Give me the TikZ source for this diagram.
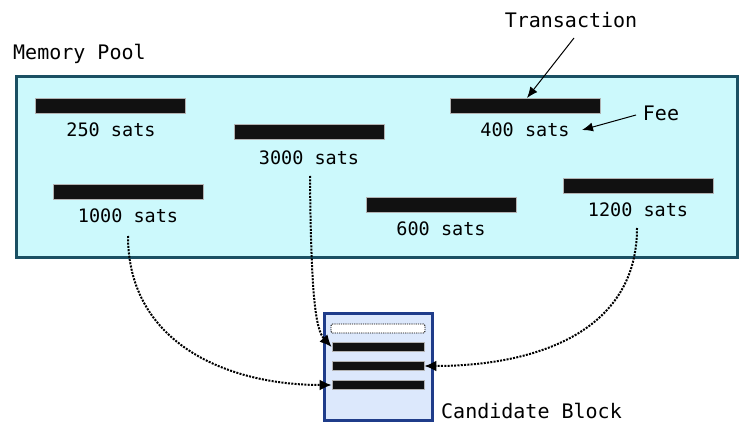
\documentclass[tikz,border=0pt]{standalone}
\usepackage{fontspec}
\setmonofont{DejaVu Sans Mono}
\usetikzlibrary{arrows.meta}
\definecolor{poolfill}{HTML}{CCF9FC}
\definecolor{pooledge}{HTML}{1A5063}
\definecolor{candfill}{HTML}{DCE8FC}
\definecolor{candedge}{HTML}{1F3C8A}
\definecolor{barfill}{HTML}{111111}
\tikzset{
  txbar/.style={fill=barfill, draw=gray!60, line width=0.8pt, minimum width=150pt, minimum height=15pt, inner sep=0pt},
  cbar/.style={fill=barfill, draw=gray!60, line width=0.8pt, minimum width=92pt, minimum height=9pt, inner sep=0pt},
  sats/.style={font=\ttfamily\fontsize{18.5}{20}\selectfont, inner sep=0pt},
  lbl/.style={font=\ttfamily\fontsize{20}{22}\selectfont, inner sep=0pt},
  flow/.style={line width=2pt, dash pattern=on 2pt off 1.3pt, -{Latex[length=12pt,width=11pt]}},
  note/.style={line width=1pt, -{Latex[length=11pt,width=9pt]}}
}
\begin{document}
\begin{tikzpicture}[x=1pt,y=-1pt]
\useasboundingbox (0,0) rectangle (752,435);
% memory pool
\node[draw=pooledge, fill=poolfill, line width=3pt, minimum width=721pt, minimum height=181pt, inner sep=0pt] (pool) at (377,167.5) {};
\node[lbl, anchor=west] (pooltitle) at (13,54) {Memory Pool};
% transactions
\node[txbar] (b250) at (110,106) {};
\node[sats] (l250) at (111,129.5) {250 sats};
\node[txbar] (b3000) at (309,132) {};
\node[sats] (l3000) at (309,157.5) {3000 sats};
\node[txbar] (b400) at (525,106) {};
\node[sats] (l400) at (525,129.5) {400 sats};
\node[txbar] (b1000) at (128,192) {};
\node[sats] (l1000) at (128,215.5) {1000 sats};
\node[txbar] (b600) at (441,204.5) {};
\node[sats] (l600) at (441,228.5) {600 sats};
\node[txbar] (b1200) at (638,185.5) {};
\node[sats] (l1200) at (638,209.5) {1200 sats};
% annotations
\node[lbl] (trans) at (571,20) {Transaction};
\node[lbl] (fee) at (661,113) {Fee};
\coordinate (tstart) at (574,38);
\coordinate (tend) at (527,98);
\coordinate (fstart) at (636,115);
\coordinate (fend) at (582,130);
\draw[note] (tstart) -- (tend);
\draw[note] (fstart) -- (fend);
% candidate block
\node[draw=candedge, fill=candfill, line width=3pt, minimum width=108pt, minimum height=106pt, inner sep=0pt] (cand) at (378,367) {};
\node[draw=black, fill=white, dash pattern=on 1.2pt off 1pt, line width=0.9pt, rounded corners=1.5pt, minimum width=94pt, minimum height=9pt, inner sep=0pt] (cslot) at (378,328.5) {};
\node[cbar] (cb1) at (378,347) {};
\node[cbar] (cb2) at (378,366) {};
\node[cbar] (cb3) at (378,385) {};
\node[lbl, anchor=west] (candlbl) at (441,411) {Candidate Block};
% flows
\coordinate (s3000) at (310,176);
\coordinate (s1000) at (128,236);
\coordinate (s1200) at (637,228);
\draw[flow] (s3000) .. controls (311,300) and (316,330) .. (cb1.west);
\draw[flow] (s1000) .. controls (128,345) and (230,385) .. (cb3.west);
\draw[flow] (s1200) .. controls (637,335) and (530,366) .. (cb2.east);
\end{tikzpicture}
\end{document}
